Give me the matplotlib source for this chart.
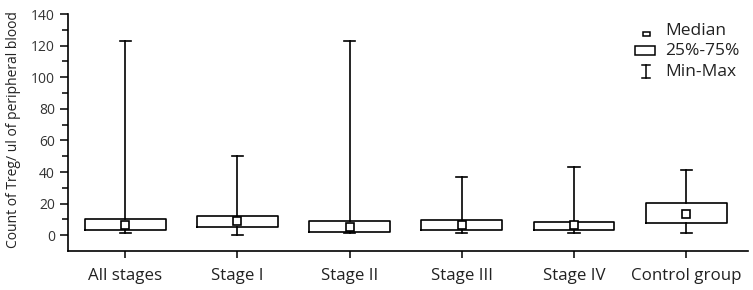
import matplotlib.pyplot as plt
from matplotlib.patches import Rectangle
from matplotlib.lines import Line2D

plt.rcParams['font.family'] = ['Open Sans', 'DejaVu Sans']

# values
groups = ['All stages', 'Stage I', 'Stage II', 'Stage III', 'Stage IV', 'Control group']
mins = [1.3, 0.0, 1.7, 1.5, 1.5, 1.5]
q1 = [3.2, 5.2, 2.3, 3.4, 3.4, 7.6]
medians = [6.5, 9.3, 5.2, 6.3, 6.5, 13.4]
q3 = [10.5, 12.4, 9.3, 9.5, 8.6, 20.4]
maxs = [123, 50, 123, 37, 43, 41]

W, H = 753, 290
fig = plt.figure(figsize=(W / 100, H / 100), dpi=100)
ax = fig.add_axes([68 / W, 1 - 251 / H, (748 - 68) / W, (251 - 14) / H])

pos = list(range(1, len(groups) + 1))
stats = []
for i in range(len(groups)):
    stats.append({'med': medians[i], 'q1': q1[i], 'q3': q3[i],
                  'whislo': mins[i], 'whishi': maxs[i], 'fliers': []})

lw = 1.2
ax.bxp(stats, positions=pos, widths=0.72, capwidths=0.1, showfliers=False,
       boxprops=dict(color='black', linewidth=lw),
       whiskerprops=dict(color='black', linewidth=lw),
       capprops=dict(color='black', linewidth=lw),
       medianprops=dict(linewidth=0))
ax.plot(pos, medians, 's', markersize=5.5, markerfacecolor='white',
        markeredgecolor='black', markeredgewidth=1.2, linestyle='none')

ax.set_xlim(0.49, 6.55)
ax.set_ylim(-10, 140)
ax.set_yticks(range(0, 141, 20))
ax.set_yticks(range(0, 141, 10), minor=True)
ax.set_xticks(pos)
ax.set_xticklabels(groups, fontsize=12.2, color='#222222')
ax.tick_params(axis='y', labelsize=10, labelcolor='#333333', length=6, width=1.1)
ax.tick_params(axis='y', which='minor', length=4, width=1.1)
ax.tick_params(axis='x', length=5, width=1.1, pad=7)
for s in ['top', 'right']:
    ax.spines[s].set_visible(False)
for s in ['left', 'bottom']:
    ax.spines[s].set_linewidth(1.2)
ax.spines['left'].set_bounds(-10, 140)

fig.text(14 / W, 1 - 130 / H, 'Count of Treg/ ul of peripheral blood',
         rotation=90, ha='center', va='center', fontsize=10, color='#222222')

# legend, drawn by hand
def fx(x):
    return x / W

def fy(y):
    return 1 - y / H

fig.add_artist(Rectangle((fx(643), fy(36)), 7 / W, 4 / H, transform=fig.transFigure,
                         facecolor='white', edgecolor='black', linewidth=1.1))
fig.add_artist(Rectangle((fx(635), fy(55)), 20 / W, 9 / H, transform=fig.transFigure,
                         facecolor='white', edgecolor='black', linewidth=1.1))
for xs, ys in [([646, 646], [65, 78]), ([642, 650], [65, 65]), ([642, 650], [78, 78])]:
    fig.add_artist(Line2D([fx(v) for v in xs], [fy(v) for v in ys],
                          transform=fig.transFigure, color='black', linewidth=1.1))
for txt, yy in [('Median', 31), ('25%-75%', 51), ('Min-Max', 72)]:
    fig.text(fx(665), fy(yy), txt, ha='left', va='center', fontsize=12.5, color='#222222')

fig.savefig('out.png', dpi=100)
